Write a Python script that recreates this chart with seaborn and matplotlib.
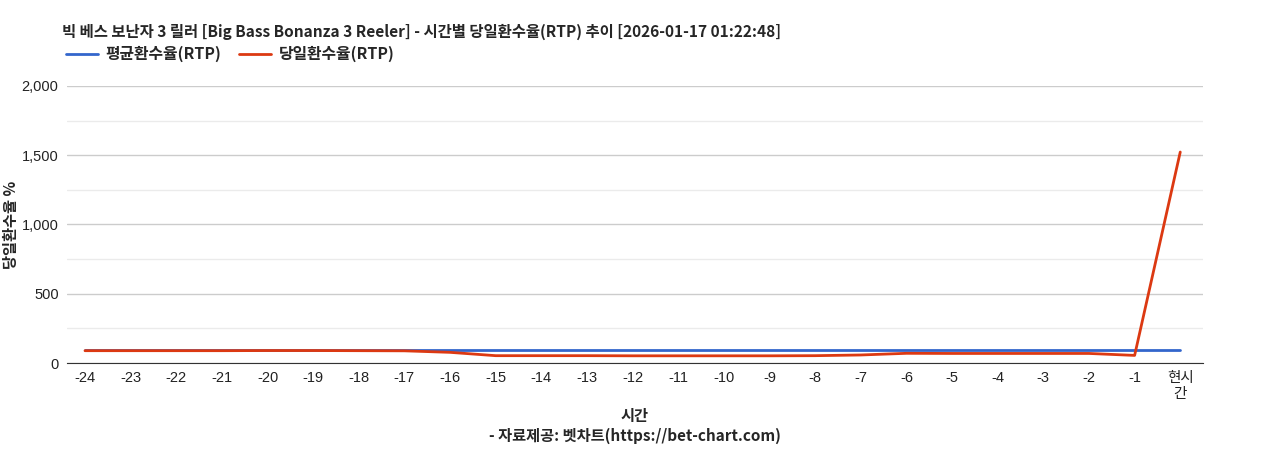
import pandas as pd
import matplotlib.pyplot as plt
import seaborn as sns
from matplotlib.lines import Line2D

hours = ['-24', '-23', '-22', '-21', '-20', '-19', '-18', '-17', '-16', '-15', '-14', '-13',
         '-12', '-11', '-10', '-9', '-8', '-7', '-6', '-5', '-4', '-3', '-2', '-1', '현시\n간']
avg_rtp = [94] * 25
day_rtp = [89, 89, 89, 89, 90, 90, 89, 88, 77, 53, 53, 53,
           52, 52, 52, 52, 53, 58, 70, 69, 69, 69, 69, 55, 1523]

title = '빅 베스 보난자 3 릴러 [Big Bass Bonanza 3 Reeler] - 시간별 당일환수율(RTP) 추이 [2026-01-17 01:22:48]'

df = pd.DataFrame({'pos': range(len(hours)), '평균환수율(RTP)': avg_rtp, '당일환수율(RTP)': day_rtp})
df = df.melt(id_vars='pos', var_name='series', value_name='rtp')

sns.set_style('white')
plt.rcParams['font.family'] = ['Liberation Sans', 'Noto Sans CJK KR']
kr = ['Noto Sans CJK KR', 'Liberation Sans']

fig = plt.figure(figsize=(12.68, 4.5), dpi=100)
ax = fig.add_axes([0.0528, 0.1933, 0.896, 0.6157])

sns.lineplot(data=df, x='pos', y='rtp', hue='series',
             palette={'평균환수율(RTP)': '#3366cc', '당일환수율(RTP)': '#dc3912'},
             linewidth=2, ax=ax, legend=False)

ax.set_ylim(0, 2000)
ax.set_xlim(-0.395, 24.5)
ax.set_yticks([0, 500, 1000, 1500, 2000])
ax.set_yticks([250, 750, 1250, 1750], minor=True)
ax.set_yticklabels(['0', '500', '1,000', '1,500', '2,000'], fontsize=10.5, color='#222222')
ax.set_xticks(range(len(hours)))
ax.set_xticklabels(hours, fontsize=10.5, color='#222222', linespacing=1.15)
ax.tick_params(axis='both', length=0, pad=6)
ax.grid(axis='y', which='major', color='#cccccc', linewidth=1)
ax.grid(axis='y', which='minor', color='#ebebeb', linewidth=1)
ax.set_axisbelow(True)
for s in ['top', 'right', 'left']:
    ax.spines[s].set_visible(False)
ax.spines['bottom'].set_color('#333333')

ax.set_xlabel('시간\n- 자료제공: 벳차트(https://bet-chart.com)', fontsize=11,
              fontweight='bold', family=kr, labelpad=5, linespacing=1.3)
ax.set_ylabel('당일환수율 %', fontsize=11, fontweight='bold', family=kr, labelpad=2)

fig.text(0.049, 0.912, title, fontsize=11.1, fontweight='bold', family=kr, va='bottom')

handles = [Line2D([], [], color='#3366cc', linewidth=2), Line2D([], [], color='#dc3912', linewidth=2)]
fig.legend(handles, ['평균환수율(RTP)', '당일환수율(RTP)'], loc='lower left',
           bbox_to_anchor=(0.041, 0.83), ncol=2, frameon=False, handlelength=2.0,
           columnspacing=1.1, handletextpad=0.5, prop={'family': kr, 'weight': 'bold', 'size': 11.4})

fig.savefig('out.png', dpi=100)
